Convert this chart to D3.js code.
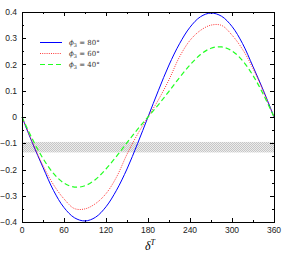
<!DOCTYPE html>
<html>
<head>
<meta charset="utf-8">
<script src="https://d3js.org/d3.v7.min.js"></script>
<style>
  body { margin: 0; background: #fff; }
  text { font-family: "Liberation Sans", Arial, sans-serif; }
</style>
</head>
<body>
<div id="chart"></div>
<script>
// angles delta^T in degrees
var angles = [0, 15, 30, 45, 60, 75, 90, 105, 120, 135, 150, 165, 180,
              195, 210, 225, 240, 255, 270, 285, 300, 315, 330, 345, 360];
// phi3 = 80
var phi80 = [0, -0.100, -0.192, -0.280, -0.345, -0.384, -0.396, -0.382, -0.342, -0.279, -0.198, -0.102, 0,
             0.102, 0.198, 0.279, 0.342, 0.382, 0.396, 0.384, 0.345, 0.280, 0.192, 0.100, 0];
// phi3 = 60
var phi60 = [0, -0.097, -0.185, -0.258, -0.312, -0.349, -0.350, -0.330, -0.292, -0.229, -0.142, -0.066, 0,
             0.066, 0.142, 0.229, 0.292, 0.330, 0.350, 0.349, 0.312, 0.258, 0.185, 0.097, 0];
// phi3 = 40
var phi40 = [0, -0.085, -0.158, -0.215, -0.252, -0.267, -0.262, -0.238, -0.198, -0.150, -0.098, -0.047, 0,
             0.047, 0.098, 0.150, 0.198, 0.238, 0.262, 0.267, 0.252, 0.215, 0.158, 0.085, 0];
var band = [-0.135, -0.095];
var xTicks = [0, 60, 120, 180, 240, 300, 360];
var yTicks = [-0.4, -0.3, -0.2, -0.1, 0, 0.1, 0.2, 0.3, 0.4];
var seriesNames = ["80", "60", "40"];

var W = 291, H = 254;
var m = {left: 22, right: 17, top: 12, bottom: 32};

var svg = d3.select("#chart").append("svg")
  .attr("width", W).attr("height", H);

var x = d3.scaleLinear().domain([0, 360]).range([m.left, W - m.right]);
var y = d3.scaleLinear().domain([-0.4, 0.4]).range([H - m.bottom, m.top]);

// hatched band
var defs = svg.append("defs");
var pat = defs.append("pattern").attr("id", "hatch")
  .attr("patternUnits", "userSpaceOnUse").attr("width", 2).attr("height", 2);
pat.append("rect").attr("width", 2).attr("height", 2).attr("fill", "#ececec");
pat.append("rect").attr("width", 1).attr("height", 1).attr("fill", "#c6c6c6");
pat.append("rect").attr("x", 1).attr("y", 1).attr("width", 1).attr("height", 1).attr("fill", "#c6c6c6");

svg.append("rect")
  .attr("x", x(0)).attr("width", x(360) - x(0))
  .attr("y", y(band[1])).attr("height", y(band[0]) - y(band[1]))
  .attr("fill", "url(#hatch)");

// ticks on all four sides, pointing inward
var g = svg.append("g").attr("stroke", "#000").attr("stroke-width", 1);
d3.range(0, 361, 30).forEach(function(v) {
  var len = v % 60 == 0 ? 4 : 2;
  var px = Math.round(x(v)) + 0.5;
  g.append("line").attr("x1", px).attr("x2", px).attr("y1", y(-0.4)).attr("y2", y(-0.4) - len);
  g.append("line").attr("x1", px).attr("x2", px).attr("y1", y(0.4)).attr("y2", y(0.4) + len);
});
d3.range(-8, 9).forEach(function(k) {
  var v = k * 0.05;
  var len = k % 2 == 0 ? 4 : 2;
  var py = Math.round(y(v)) + 0.5;
  g.append("line").attr("y1", py).attr("y2", py).attr("x1", x(0)).attr("x2", x(0) + len);
  g.append("line").attr("y1", py).attr("y2", py).attr("x1", x(360)).attr("x2", x(360) - len);
});

// tick labels
svg.selectAll(".xl").data(xTicks).enter().append("text")
  .attr("x", function(d) { return x(d); })
  .attr("y", y(-0.4) + 11)
  .attr("text-anchor", "middle")
  .attr("font-size", 8.5).attr("fill", "#222")
  .text(function(d) { return d; });

svg.selectAll(".yl").data(yTicks).enter().append("text")
  .attr("x", 17)
  .attr("y", function(d) { return y(d) + 3; })
  .attr("text-anchor", "end")
  .attr("font-size", 8.5).attr("fill", "#222")
  .text(function(d) { return d == 0 ? "0" : (d < 0 ? "\u2212" : "") + Math.abs(d).toFixed(1); });

// curves
var line = d3.line()
  .x(function(d, i) { return x(angles[i]); })
  .y(function(d) { return y(d); })
  .curve(d3.curveCatmullRom);

var styles = [
  {data: phi80, color: "#0000ff", dash: null, width: 1},
  {data: phi60, color: "#ff2020", dash: "1,1.2", width: 0.9},
  {data: phi40, color: "#22ff22", dash: "5,3", width: 1.2}
];

styles.forEach(function(s) {
  svg.append("path")
    .attr("d", line(s.data))
    .attr("fill", "none")
    .attr("stroke", s.color)
    .attr("stroke-width", s.width)
    .attr("stroke-dasharray", s.dash);
});

// legend
styles.forEach(function(s, i) {
  var ly = 42.5 + i * 11;
  svg.append("line")
    .attr("x1", 40).attr("x2", 62).attr("y1", ly).attr("y2", ly)
    .attr("stroke", s.color).attr("stroke-width", s.width)
    .attr("stroke-dasharray", s.dash);
  var t = svg.append("text")
    .attr("x", 69).attr("y", ly + 2.5)
    .attr("font-size", 7).attr("fill", "#333")
    .style("font-family", "'DejaVu Serif', 'Liberation Serif', serif");
  t.append("tspan").attr("font-style", "italic").text("\u03d5");
  t.append("tspan").attr("font-size", 5).attr("dy", 1.5).text("3");
  t.append("tspan").attr("dy", -1.5).text(" = " + seriesNames[i] + "\u00b0");
});

// frame
svg.append("rect")
  .attr("x", x(0) + 0.5).attr("y", y(0.4) + 0.5)
  .attr("width", x(360) - x(0)).attr("height", y(-0.4) - y(0.4))
  .attr("fill", "none").attr("stroke", "#000").attr("stroke-width", 1);

// axis title
var xt = svg.append("text")
  .attr("x", x(180) - 3).attr("y", 250)
  .attr("font-size", 12).attr("fill", "#000")
  .style("font-family", "'Liberation Serif', 'DejaVu Serif', serif");
xt.append("tspan").attr("font-style", "italic").text("\u03b4");
xt.append("tspan").attr("font-style", "italic").attr("font-size", 8).attr("dy", -5).text("T");
</script>
</body>
</html>
